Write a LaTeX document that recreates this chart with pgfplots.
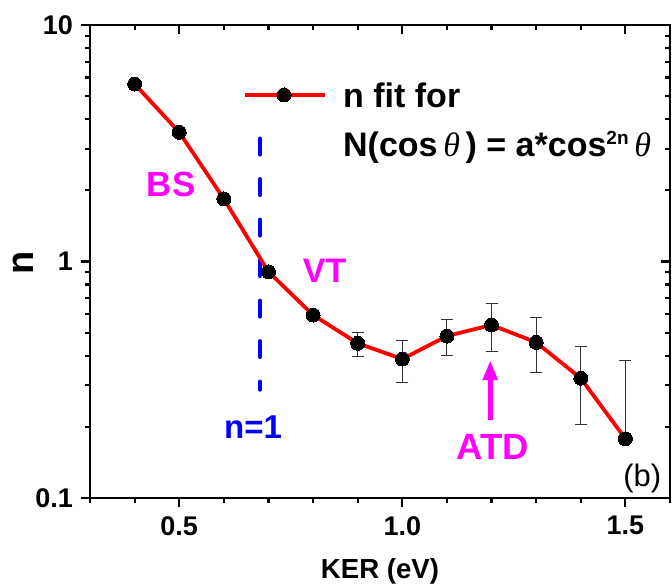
\documentclass[border=0pt]{standalone}
\usepackage{fontspec}
\setmainfont{Liberation Sans}
\newfontfamily\seriffont{Liberation Serif}
\usepackage{pgfplots}
\pgfplotsset{compat=1.18}
\usepackage{pgfplotstable}
\usetikzlibrary{arrows.meta}
\definecolor{mag}{RGB}{255,0,255}
\definecolor{myblue}{RGB}{0,0,255}
\definecolor{myred}{RGB}{255,0,0}

\pgfplotstableread{
x y ep em
0.4 5.63 0 0
0.5 3.52 0 0
0.6 1.84 0 0
0.7 0.905 0 0
0.8 0.594 0.02 0.02
0.9 0.451 0.049 0.053
1.0 0.387 0.077 0.078
1.1 0.484 0.083 0.082
1.2 0.539 0.124 0.121
1.3 0.455 0.124 0.115
1.4 0.321 0.118 0.117
1.5 0.178 0.203 0
}\datatable

\begin{document}
\begin{tikzpicture}
\begin{axis}[
  scale only axis, width=580pt, height=473pt,
  xmin=0.3, xmax=1.6, ymode=log, ymin=0.1, ymax=10,
  xtick={0.5,1.0,1.5},
  minor xtick={0.3,0.4,0.6,0.7,0.8,0.9,1.1,1.2,1.3,1.4,1.6},
  ytick={0.1,1,10},
  minor ytick={0.2,0.3,0.4,0.5,0.6,0.7,0.8,0.9,2,3,4,5,6,7,8,9},
  major tick length=9pt, minor tick length=5pt,
  axis line style={line width=2.5pt},
  every tick/.style={black, line width=2.2pt},
  tick align=outside, xtick pos=left, ytick pos=left,
  xticklabels={0.5,1.0,1.5},
  yticklabels={0.1,1,10},
  tick label style={font=\fontsize{27}{27}\selectfont\bfseries},
  yticklabel style={inner sep=0pt, xshift=-8pt},
  xticklabel style={inner sep=0pt, yshift=-9pt},
  clip=false,
  xlabel={KER (eV)},
  ylabel={n},
  xlabel style={at={(rel axis cs:0.5,0)}, anchor=base, yshift=-80pt, inner sep=0pt,
                font=\fontsize{27.6}{27.6}\selectfont\bfseries},
  ylabel style={at={(rel axis cs:-0.0978,0.498)}, anchor=south, inner sep=0pt,
                font=\fontsize{38}{38}\selectfont\bfseries},
]
% dashed n=1 line
\addplot[myblue, line width=4pt, dash pattern=on 16pt off 24.5pt, line cap=round, forget plot]
  coordinates {(0.681,3.31) (0.681,0.287)};

% main data
\addplot[myred, line width=3.8pt, mark=*, mark size=7pt,
  mark options={black, fill=black, line width=0pt},
  error bars/.cd, y dir=both, y explicit,
  error bar style={black!80, line width=1pt},
  error mark options={rotate=90, mark size=6pt, black!80, line width=1pt}]
  table[x=x, y=y, y error plus=ep, y error minus=em] {\datatable};

% legend sample
\addplot[myred, line width=3.8pt, mark=*, mark size=7pt,
  mark options={black, fill=black, line width=0pt}, mark indices={2}, forget plot]
  coordinates {(0.647,5.06) (0.735,5.06) (0.827,5.06)};

\node[anchor=base west, inner sep=0pt, font=\fontsize{34}{34}\selectfont\bfseries]
  at (axis cs:0.867,4.50) {n fit for};
\node[anchor=base west, inner sep=0pt, font=\fontsize{34}{34}\selectfont\bfseries]
  at (axis cs:0.867,2.774) {N(cos\,{\seriffont\mdseries\itshape θ}\,) = a*cos\raisebox{12pt}{\fontsize{19}{19}\selectfont 2n}\,{\seriffont\mdseries\itshape θ}};

\node[anchor=base west, inner sep=0pt, text=mag, font=\fontsize{35}{35}\selectfont\bfseries]
  at (axis cs:0.427,1.879) {BS};
\node[anchor=base west, inner sep=0pt, text=mag, font=\fontsize{34}{34}\selectfont\bfseries]
  at (axis cs:0.7768,0.817) {VT};
\node[anchor=base west, inner sep=0pt, text=myblue, font=\fontsize{33}{33}\selectfont\bfseries]
  at (axis cs:0.6003,0.1788) {n=1};
\node[anchor=base west, inner sep=0pt, text=mag, font=\fontsize{36.5}{36.5}\selectfont\bfseries]
  at (axis cs:1.122,0.1448) {ATD};
\draw[mag, line width=5pt, -{Triangle[length=20pt, width=14pt]}]
  (axis cs:1.197,0.214) -- (axis cs:1.197,0.383);
\node[anchor=base west, inner sep=0pt, font=\fontsize{31}{31}\selectfont]
  at (axis cs:1.495,0.1116) {(b)};
\end{axis}

\begin{axis}[
  scale only axis, width=580pt, height=473pt,
  xmin=0.3, xmax=1.6, ymode=log, ymin=0.1, ymax=10,
  xtick={0.5,1.0,1.5},
  minor xtick={0.3,0.4,0.6,0.7,0.8,0.9,1.1,1.2,1.3,1.4,1.6},
  ytick={0.1,1,10},
  minor ytick={0.2,0.3,0.4,0.5,0.6,0.7,0.8,0.9,2,3,4,5,6,7,8,9},
  major tick length=9pt, minor tick length=5pt,
  axis line style={line width=2.5pt},
  every tick/.style={black, line width=2.2pt},
  tick align=inside, xtick pos=right, ytick pos=right,
  xticklabels={}, yticklabels={},
]
\addplot[draw=none, forget plot] coordinates {(1,1)};
\end{axis}

\pgfresetboundingbox
\path[use as bounding box] ([shift={(-90pt,-89pt)}]current axis.south west)
  rectangle ([shift={(2pt,25pt)}]current axis.north east);
\end{tikzpicture}
\end{document}
